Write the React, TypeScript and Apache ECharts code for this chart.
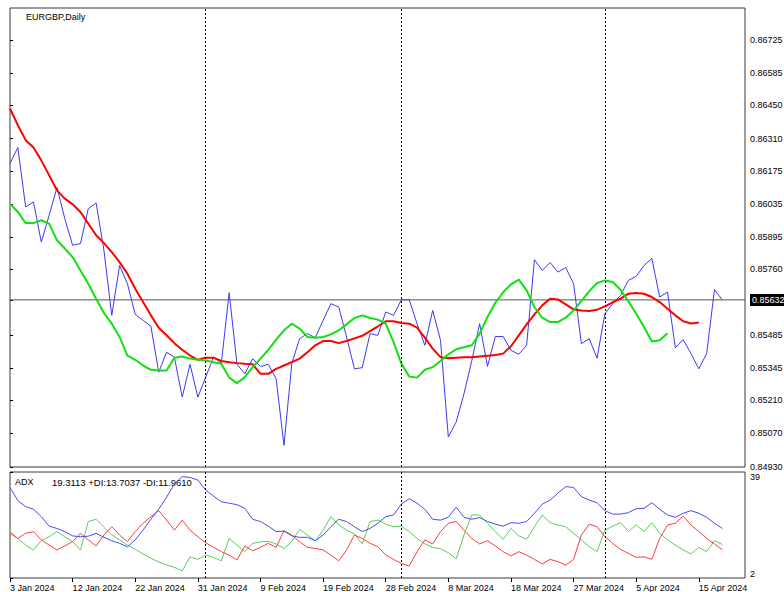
import React, { useEffect, useRef } from "react";
import * as echarts from "echarts";

// Daily bars (broker feed includes Sunday bars)
const dates = [
  "2024-01-03","2024-01-04","2024-01-05","2024-01-07","2024-01-08","2024-01-09","2024-01-10","2024-01-11","2024-01-12",
  "2024-01-14","2024-01-15","2024-01-16","2024-01-17","2024-01-18","2024-01-19","2024-01-21","2024-01-22","2024-01-23",
  "2024-01-24","2024-01-25","2024-01-26","2024-01-28","2024-01-29","2024-01-30","2024-01-31",
  "2024-02-01","2024-02-02","2024-02-04","2024-02-05","2024-02-06","2024-02-07","2024-02-08","2024-02-09","2024-02-11",
  "2024-02-12","2024-02-13","2024-02-14","2024-02-15","2024-02-16","2024-02-18","2024-02-19","2024-02-20","2024-02-21",
  "2024-02-22","2024-02-23","2024-02-25","2024-02-26","2024-02-27","2024-02-28","2024-02-29",
  "2024-03-01","2024-03-03","2024-03-04","2024-03-05","2024-03-06","2024-03-07","2024-03-08","2024-03-10","2024-03-11",
  "2024-03-12","2024-03-13","2024-03-14","2024-03-15","2024-03-17","2024-03-18","2024-03-19","2024-03-20","2024-03-21",
  "2024-03-22","2024-03-24","2024-03-25","2024-03-26","2024-03-27","2024-03-28","2024-03-29","2024-03-31",
  "2024-04-01","2024-04-02","2024-04-03","2024-04-04","2024-04-05","2024-04-07","2024-04-08","2024-04-09","2024-04-10",
  "2024-04-11","2024-04-12","2024-04-14","2024-04-15","2024-04-16","2024-04-17","2024-04-18"
];

const closePrice = [
  0.86206,0.86273,0.86023,0.86044,0.85875,0.85988,0.86105,0.85974,0.85862,0.85869,
  0.86016,0.86040,0.85841,0.85567,0.85777,0.85700,0.85571,0.85546,0.85521,0.85328,
  0.85412,0.85391,0.85223,0.85361,0.85223,0.85307,0.85391,0.85366,0.85662,0.85361,
  0.85321,0.85385,0.85352,0.85361,0.85300,0.85020,0.85364,0.85469,0.85490,0.85473,
  0.85546,0.85616,0.85602,0.85476,0.85342,0.85347,0.85490,0.85483,0.85581,0.85567,
  0.85633,0.85633,0.85532,0.85441,0.85588,0.85462,0.85055,0.85118,0.85237,0.85377,
  0.85532,0.85352,0.85478,0.85478,0.85420,0.85403,0.85441,0.85801,0.85756,0.85789,
  0.85749,0.85768,0.85700,0.85448,0.85469,0.85387,0.85574,0.85616,0.85651,0.85714,
  0.85731,0.85777,0.85806,0.85644,0.85665,0.85431,0.85465,0.85406,0.85342,0.85406,
  0.85675,0.85632
];

const maRed = [
  0.86437,0.86367,0.86304,0.86273,0.86219,0.86156,0.86093,0.86058,0.86034,0.86002,
  0.85953,0.85904,0.85871,0.85833,0.85791,0.85742,0.85679,0.85623,0.85567,0.85515,
  0.85483,0.85450,0.85422,0.85398,0.85380,0.85389,0.85389,0.85375,0.85370,0.85366,
  0.85363,0.85361,0.85321,0.85321,0.85342,0.85356,0.85370,0.85385,0.85412,0.85441,
  0.85459,0.85459,0.85450,0.85459,0.85470,0.85481,0.85501,0.85521,0.85542,0.85542,
  0.85535,0.85532,0.85515,0.85473,0.85427,0.85391,0.85387,0.85389,0.85391,0.85391,
  0.85394,0.85397,0.85400,0.85406,0.85437,0.85483,0.85529,0.85571,0.85609,0.85637,
  0.85634,0.85613,0.85592,0.85587,0.85585,0.85591,0.85605,0.85622,0.85637,0.85658,
  0.85661,0.85658,0.85644,0.85623,0.85595,0.85567,0.85542,0.85533,0.85537
];

const maGreen = [
  0.86037,0.86002,0.85955,0.85955,0.85967,0.85953,0.85883,0.85848,0.85812,0.85756,
  0.85700,0.85637,0.85577,0.85532,0.85476,0.85398,0.85380,0.85356,0.85338,0.85335,
  0.85335,0.85389,0.85394,0.85385,0.85380,0.85377,0.85370,0.85363,0.85305,0.85282,
  0.85307,0.85349,0.85385,0.85422,0.85465,0.85504,0.85532,0.85511,0.85476,0.85473,
  0.85476,0.85487,0.85504,0.85529,0.85556,0.85567,0.85556,0.85549,0.85532,0.85454,
  0.85364,0.85310,0.85305,0.85338,0.85349,0.85375,0.85403,0.85424,0.85433,0.85441,
  0.85490,0.85560,0.85620,0.85664,0.85697,0.85717,0.85672,0.85602,0.85557,0.85539,
  0.85539,0.85557,0.85588,0.85627,0.85669,0.85703,0.85714,0.85707,0.85675,0.85626,
  0.85574,0.85518,0.85457,0.85462,0.85492
];

const adxMain = [
  33.6,29.0,26.9,26.0,23.4,20.1,19.3,18.2,16.7,16.4,
  16.6,17.6,16.2,15.0,14.1,12.9,15.3,18.7,22.5,26.0,
  30.2,34.8,37.4,37.1,36.2,32.7,30.6,28.6,28.1,27.6,
  26.3,22.5,21.7,20.1,18.2,18.4,16.7,16.2,16.2,15.0,
  17.0,19.9,22.5,21.7,19.9,18.2,19.3,21.1,23.4,24.0,
  27.8,29.7,28.1,26.0,22.5,22.2,23.2,26.7,23.2,22.5,
  23.1,21.7,20.8,20.1,21.3,21.1,21.7,24.6,27.8,29.2,
  31.6,33.9,33.6,30.4,29.2,28.3,25.5,24.3,24.3,24.8,
  26.2,26.3,28.3,26.0,24.0,23.2,24.6,25.5,24.6,23.2,
  21.1,19.3
];

const plusDI = [
  18.2,15.8,13.5,11.8,15.0,16.4,18.2,16.4,14.7,11.8,
  21.7,22.5,19.7,17.0,15.3,13.5,12.0,10.4,8.9,7.6,
  6.6,5.7,4.5,9.4,8.5,10.0,9.2,8.0,15.8,13.5,
  11.2,14.1,14.6,14.8,13.9,12.3,14.7,19.0,17.0,15.0,
  18.7,23.4,20.5,18.7,17.4,13.9,21.7,22.2,20.8,19.9,
  20.1,18.2,15.8,13.9,12.7,12.2,10.8,8.7,17.0,24.0,
  24.0,21.1,18.2,15.5,19.3,16.7,15.5,19.9,24.0,21.3,
  20.5,19.9,17.6,15.3,12.9,11.2,18.7,20.1,21.3,18.2,
  20.5,18.2,21.3,17.6,15.3,13.5,11.8,10.4,12.7,11.2,
  15.0,13.7
];

const minusDI = [
  17.6,15.8,17.6,18.2,15.3,13.5,11.8,13.2,14.7,17.6,
  15.3,13.2,17.0,19.9,17.0,14.7,18.2,21.1,23.4,25.5,
  22.2,18.7,22.2,18.7,16.4,14.3,12.7,11.2,10.0,8.3,
  13.2,11.5,12.7,14.1,12.7,18.5,17.0,14.7,12.7,12.3,
  11.8,10.0,8.0,11.8,17.0,15.8,14.1,12.9,10.0,8.5,
  7.1,6.2,11.2,15.3,13.9,18.2,21.1,21.7,18.7,15.8,
  13.9,15.0,13.2,11.2,9.7,11.2,10.0,8.5,6.9,8.5,
  7.7,6.5,8.5,17.0,20.8,19.9,16.4,14.1,12.0,10.6,
  9.2,9.4,8.5,15.8,20.5,21.1,23.6,20.5,18.2,15.8,
  13.9,11.8
];

const priceTicks = [
  0.84930,0.85070,0.85210,0.85345,0.85485,0.85760,0.85895,
  0.86035,0.86175,0.86310,0.86450,0.86585,0.86725
];
const lastPrice = 0.85632;
const adxTicks = [2, 39];
const xTickDates = [
  "2024-01-03","2024-01-12","2024-01-22","2024-01-31","2024-02-09","2024-02-19",
  "2024-02-28","2024-03-08","2024-03-18","2024-03-27","2024-04-05","2024-04-15"
];
const titleText = "EURGBP,Daily";
const adxName = "ADX";
const adxValuesText = "19.3113 +DI:13.7037 -DI:11.9610";

const MONTHS = ["Jan","Feb","Mar","Apr","May","Jun","Jul","Aug","Sep","Oct","Nov","Dec"];
const fmtDate = (s: string) => {
  const [y, m, d] = s.split("-");
  return `${parseInt(d, 10)} ${MONTHS[parseInt(m, 10) - 1]} ${y}`;
};

const FONT = "Liberation Sans";

export default function App() {
  const ref = useRef<HTMLDivElement>(null);

  useEffect(() => {
    if (!ref.current) return;
    const chart = echarts.init(ref.current, undefined, { renderer: "svg" });

    const xTickIdx = xTickDates.map((d) => dates.indexOf(d));
    const sepIdx: number[] = [];
    for (let i = 1; i < dates.length; i++) {
      if (dates[i].slice(5, 7) !== dates[i - 1].slice(5, 7)) sepIdx.push(i);
    }
    const pairs = (arr: number[]) => arr.map((v, i) => [i, v]);
    const sepLines = sepIdx.map((i) => ({ xAxis: i }));
    const xMax = 93.9;

    const gridBase = {
      left: 10, right: 39, show: true, borderColor: "#3a3a3a", borderWidth: 1,
      backgroundColor: "#fff", containLabel: false, outerBoundsMode: "none",
    };

    const option: any = {
      animation: false,
      backgroundColor: "#fff",
      textStyle: { fontFamily: FONT },
      grid: [
        { ...gridBase, top: 8, height: 459 },
        { ...gridBase, top: 472, height: 106 },
      ],
      xAxis: [
        {
          gridIndex: 0, type: "value", min: 0, max: xMax,
          axisLine: { show: false }, axisTick: { show: false }, axisLabel: { show: false }, splitLine: { show: false },
        },
        {
          gridIndex: 1, type: "value", min: 0, max: xMax,
          axisLine: { show: false },
          axisTick: { show: true, customValues: xTickIdx, length: 4, lineStyle: { color: "#000" } },
          axisLabel: {
            show: true, customValues: xTickIdx, align: "left", margin: 5,
            fontSize: 9, color: "#000", fontFamily: FONT,
            formatter: (v: number) => (dates[Math.round(v)] ? fmtDate(dates[Math.round(v)]) : ""),
          },
          splitLine: { show: false },
        },
      ],
      yAxis: [
        {
          gridIndex: 0, type: "value", position: "right", min: 0.84929, max: 0.8686,
          axisLine: { show: false },
          axisTick: { show: true, customValues: [...priceTicks, lastPrice], length: 3, lineStyle: { color: "#000" } },
          axisLabel: {
            show: true, customValues: [...priceTicks, lastPrice], margin: 5,
            fontSize: 9, color: "#000", fontFamily: FONT,
            formatter: (v: number) =>
              Math.abs(v - lastPrice) < 1e-7 ? `{cur|${v.toFixed(5)}}` : v.toFixed(5),
            rich: {
              cur: { backgroundColor: "#000", color: "#fff", fontSize: 9, fontFamily: FONT, padding: [2, 0, 1, 2] },
            },
          },
          splitLine: { show: false },
        },
        {
          gridIndex: 1, type: "value", position: "right", min: 2, max: 39,
          axisLine: { show: false },
          axisTick: { show: true, customValues: adxTicks, length: 3, lineStyle: { color: "#000" } },
          axisLabel: {
            show: true, customValues: adxTicks, margin: 5,
            fontSize: 9, color: "#000", fontFamily: FONT,
            verticalAlignMaxLabel: "top", verticalAlignMinLabel: "bottom",
          },
          splitLine: { show: false },
        },
      ],
      graphic: [
        { type: "text", left: 26, top: 12, style: { text: titleText, fontSize: 9, fill: "#000", fontFamily: FONT } },
        { type: "text", left: 15, top: 477, style: { text: adxName, fontSize: 9, fill: "#000", fontFamily: FONT } },
        { type: "text", left: 52, top: 477, style: { text: adxValuesText, fontSize: 9.5, fill: "#000", fontFamily: FONT } },
      ],
      series: [
        {
          type: "line", name: "Bid", xAxisIndex: 0, yAxisIndex: 0,
          data: [[0, lastPrice], [xMax, lastPrice]],
          showSymbol: false, symbol: "none", silent: true,
          lineStyle: { color: "#555", width: 1 }, z: 1,
        },
        {
          type: "line", name: "Close", xAxisIndex: 0, yAxisIndex: 0, data: pairs(closePrice),
          showSymbol: false, symbol: "none", lineStyle: { color: "#3b3bf2", width: 1 }, z: 2,
          markLine: {
            silent: true, symbol: ["none", "none"], label: { show: false },
            lineStyle: { color: "#000", width: 1, type: [2, 2] },
            data: sepLines,
          },
        },
        {
          type: "line", name: "MA slow", xAxisIndex: 0, yAxisIndex: 0, data: pairs(maRed),
          showSymbol: false, symbol: "none", lineStyle: { color: "#ff0000", width: 2 }, z: 3,
        },
        {
          type: "line", name: "MA fast", xAxisIndex: 0, yAxisIndex: 0, data: pairs(maGreen),
          showSymbol: false, symbol: "none", lineStyle: { color: "#11e011", width: 2 }, z: 3,
        },
        {
          type: "line", name: "ADX", xAxisIndex: 1, yAxisIndex: 1, data: pairs(adxMain),
          showSymbol: false, symbol: "none", lineStyle: { color: "#4b4bf5", width: 1 }, z: 3,
          markLine: {
            silent: true, symbol: ["none", "none"], label: { show: false },
            lineStyle: { color: "#000", width: 1, type: [2, 2] },
            data: sepLines,
          },
        },
        {
          type: "line", name: "+DI", xAxisIndex: 1, yAxisIndex: 1, data: pairs(plusDI),
          showSymbol: false, symbol: "none", lineStyle: { color: "#5ccc5c", width: 1 }, z: 2,
        },
        {
          type: "line", name: "-DI", xAxisIndex: 1, yAxisIndex: 1, data: pairs(minusDI),
          showSymbol: false, symbol: "none", lineStyle: { color: "#ff3b3b", width: 1 }, z: 2,
        },
      ],
    };

    chart.setOption(option);
    return () => chart.dispose();
  }, []);

  return (
    <div
      ref={ref}
      style={{ position: "absolute", left: 0, top: 0, width: 784, height: 592, background: "#fff" }}
    />
  );
}
